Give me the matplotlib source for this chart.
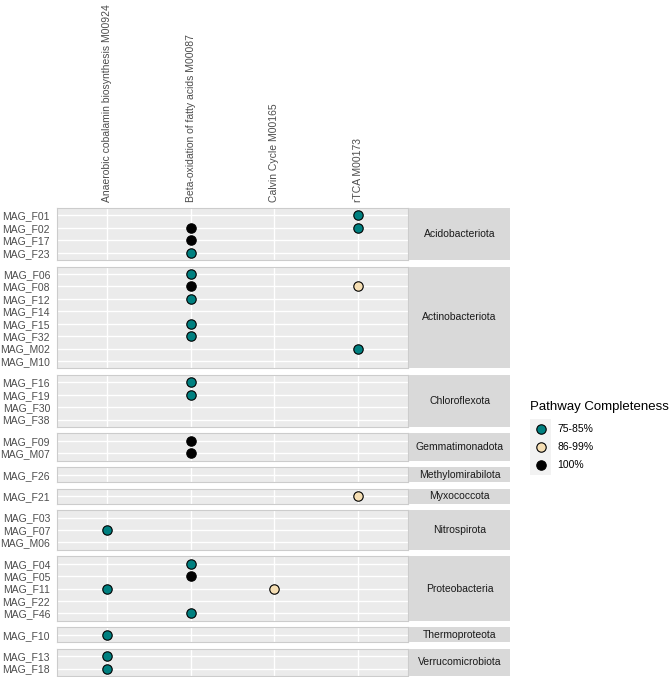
import numpy as np
import matplotlib
matplotlib.use("Agg")
import matplotlib.pyplot as plt
from matplotlib.patches import Rectangle

plt.rcParams['font.family'] = ['Liberation Sans', 'DejaVu Sans']

pathways = ['Anaerobic cobalamin biosynthesis M00924',
            'Beta-oxidation of fatty acids M00087',
            'Calvin Cycle M00165',
            'rTCA M00173']

phyla = ['Acidobacteriota', 'Actinobacteriota', 'Chloroflexota', 'Gemmatimonadota',
         'Methylomirabilota', 'Myxococcota', 'Nitrospirota', 'Proteobacteria',
         'Thermoproteota', 'Verrucomicrobiota']

mags = {
    'Acidobacteriota': ['MAG_F01', 'MAG_F02', 'MAG_F17', 'MAG_F23'],
    'Actinobacteriota': ['MAG_F06', 'MAG_F08', 'MAG_F12', 'MAG_F14', 'MAG_F15',
                         'MAG_F32', 'MAG_M02', 'MAG_M10'],
    'Chloroflexota': ['MAG_F16', 'MAG_F19', 'MAG_F30', 'MAG_F38'],
    'Gemmatimonadota': ['MAG_F09', 'MAG_M07'],
    'Methylomirabilota': ['MAG_F26'],
    'Myxococcota': ['MAG_F21'],
    'Nitrospirota': ['MAG_F03', 'MAG_F07', 'MAG_M06'],
    'Proteobacteria': ['MAG_F04', 'MAG_F05', 'MAG_F11', 'MAG_F22', 'MAG_F46'],
    'Thermoproteota': ['MAG_F10'],
    'Verrucomicrobiota': ['MAG_F13', 'MAG_F18'],
}

# (mag, pathway index, completeness class)
hits_mag = ['MAG_F01', 'MAG_F02', 'MAG_F02', 'MAG_F17', 'MAG_F23',
            'MAG_F06', 'MAG_F08', 'MAG_F08', 'MAG_F12', 'MAG_F15', 'MAG_F32', 'MAG_M02',
            'MAG_F16', 'MAG_F19', 'MAG_F09', 'MAG_M07', 'MAG_F21', 'MAG_F07',
            'MAG_F04', 'MAG_F05', 'MAG_F11', 'MAG_F11', 'MAG_F46',
            'MAG_F10', 'MAG_F13', 'MAG_F18']
hits_path = [3, 1, 3, 1, 1,
             1, 1, 3, 1, 1, 1, 3,
             1, 1, 1, 1, 3, 0,
             1, 1, 0, 2, 1,
             0, 0, 0]
hits_class = ['75-85%', '100%', '75-85%', '100%', '75-85%',
              '75-85%', '100%', '86-99%', '75-85%', '75-85%', '75-85%', '75-85%',
              '75-85%', '75-85%', '100%', '100%', '86-99%', '75-85%',
              '75-85%', '100%', '75-85%', '86-99%', '75-85%',
              '75-85%', '75-85%', '75-85%']

classes = ['75-85%', '86-99%', '100%']
colors = {'75-85%': '#008080', '86-99%': '#F5DEB3', '100%': '#000000'}

W, H = 669, 677
fig = plt.figure(figsize=(W / 100, H / 100), dpi=100)

px_left, px_right, strip_right = 57, 408, 510
top, bottom, gap = 208, 676, 6.5
units = [len(mags[p]) + 0.2 for p in phyla]
u = (bottom - top - gap * (len(phyla) - 1)) / sum(units)

fs = 7.5
msize = 46
y = top
for i, p in enumerate(phyla):
    n = len(mags[p])
    h = units[i] * u
    ax = fig.add_axes([px_left / W, 1 - (y + h) / H, (px_right - px_left) / W, h / H])
    ax.set_facecolor('#EBEBEB')
    ax.set_xlim(-0.6, len(pathways) - 0.4)
    ax.set_ylim(n - 0.4, -0.6)
    for k in range(len(pathways)):
        ax.axvline(k, color='white', lw=1.0, zorder=1)
    for r in range(n):
        ax.axhline(r, color='white', lw=1.0, zorder=1)
    for s in ax.spines.values():
        s.set_color('#CCCCCC')
        s.set_linewidth(0.8)
    ax.set_yticks(range(n))
    ax.set_yticklabels(mags[p], fontsize=fs, color='#4D4D4D')
    ax.tick_params(axis='y', length=0, pad=5)
    if i == 0:
        ax.xaxis.tick_top()
        ax.set_xticks(range(len(pathways)))
        ax.set_xticklabels(pathways, rotation=90, fontsize=fs, color='#4D4D4D')
        ax.tick_params(axis='x', length=0, pad=4)
    else:
        ax.set_xticks([])
    # points
    for m, k, c in zip(hits_mag, hits_path, hits_class):
        if m in mags[p]:
            ax.scatter(k, mags[p].index(m), s=msize, c=colors[c], edgecolors='black',
                       linewidths=0.8, zorder=3, clip_on=False)
    # strip
    sax = fig.add_axes([(px_right + 1) / W, 1 - (y + h) / H,
                        (strip_right - px_right - 1) / W, h / H])
    sax.set_facecolor('#D9D9D9')
    sax.set_xticks([])
    sax.set_yticks([])
    for s in sax.spines.values():
        s.set_visible(False)
    sax.text(0.5, 0.5, p, ha='center', va='center', fontsize=fs, color='#1A1A1A',
             transform=sax.transAxes)
    y += h + gap

# legend
lax = fig.add_axes([0, 0, 1, 1], facecolor='none')
lax.set_xlim(0, W)
lax.set_ylim(H, 0)
lax.axis('off')
lax.text(530, 407, 'Pathway Completeness', fontsize=9.5, color='black',
         ha='left', va='center')
lax.add_patch(Rectangle((530, 419), 21, 56, facecolor='#F2F2F2', edgecolor='none', zorder=1))
for j, c in enumerate(classes):
    yy = 429 + 18 * j
    lax.scatter(540.5, yy, s=msize, c=colors[c], edgecolors='black', linewidths=0.8, zorder=3)
    lax.text(557, yy, c, fontsize=fs, color='black', va='center', ha='left')

fig.savefig('out.png', dpi=100)
